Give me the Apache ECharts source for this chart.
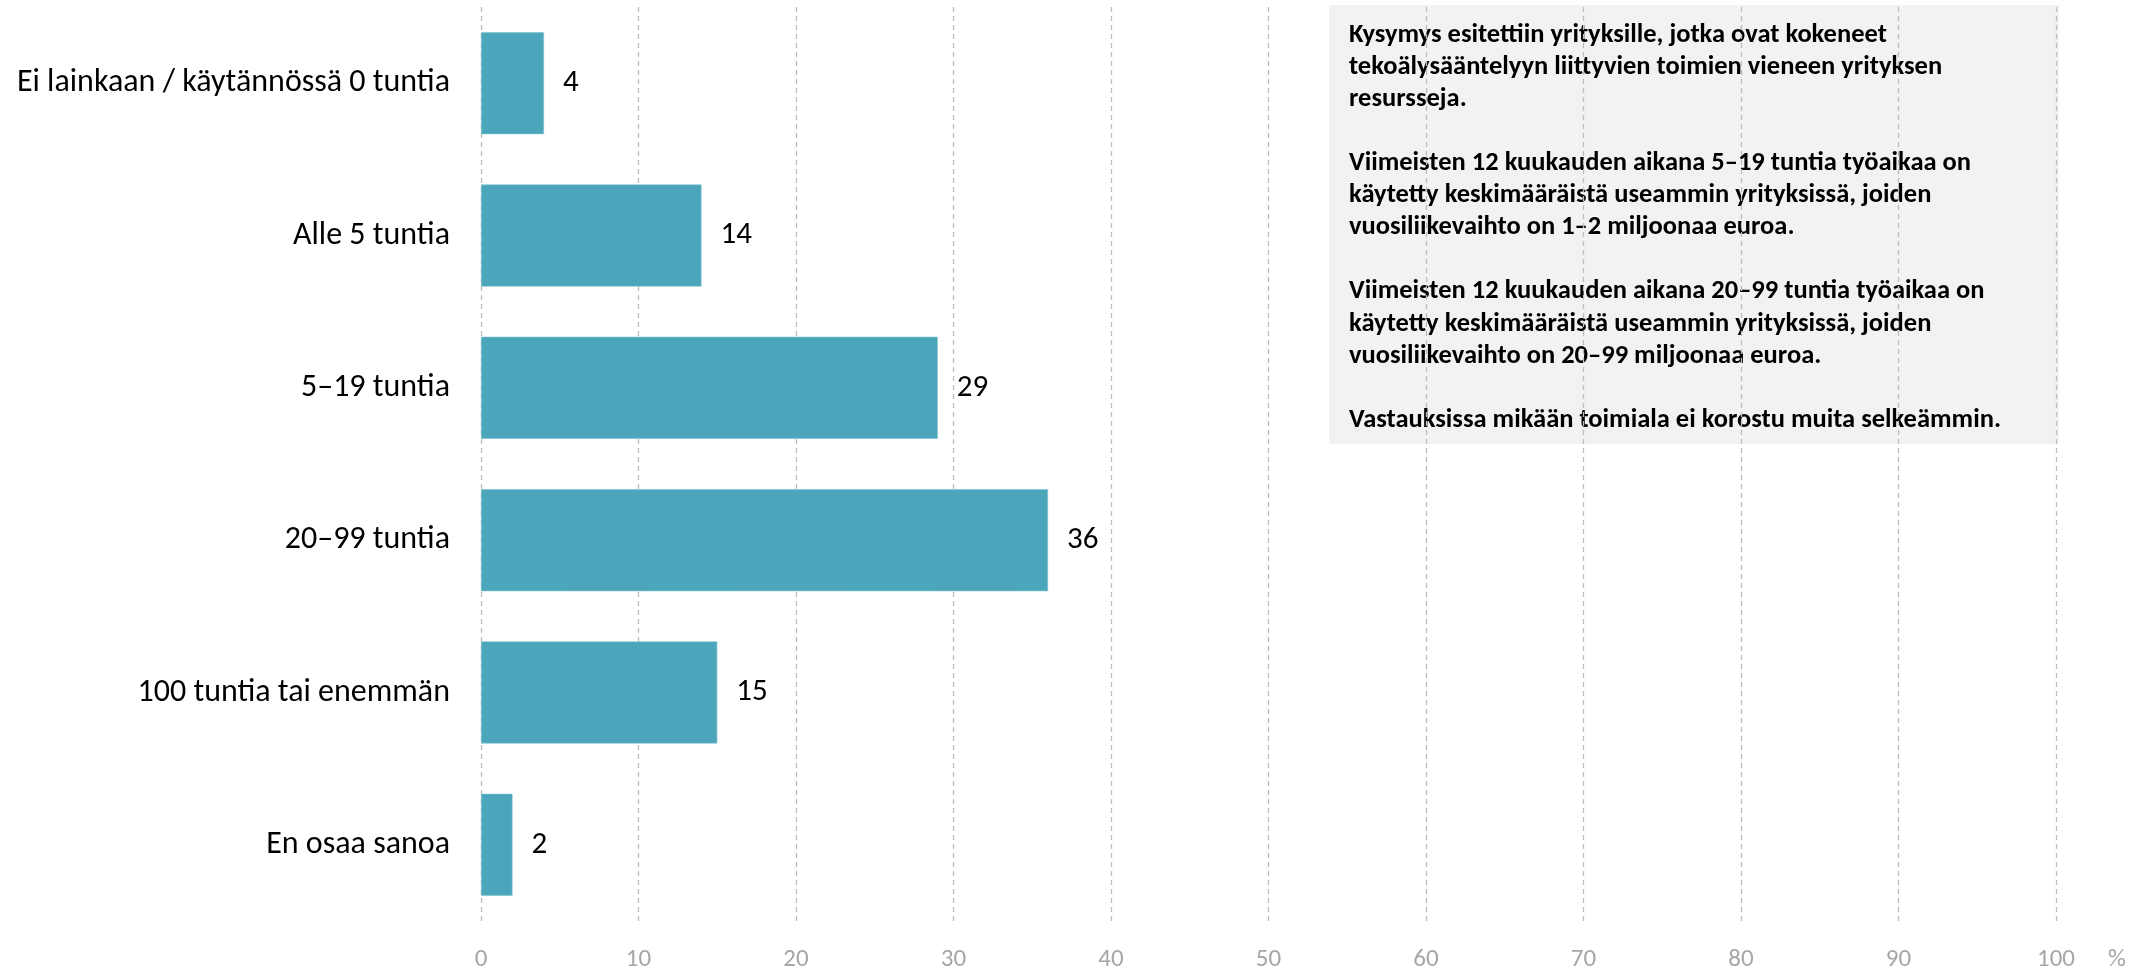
<!DOCTYPE html>
<html>
<head>
<meta charset="utf-8">
<script src="https://cdn.jsdelivr.net/npm/echarts@6/dist/echarts.min.js"></script>
<style>
  html, body { margin: 0; padding: 0; background: #ffffff; }
  #chart { width: 2152px; height: 972px; }
</style>
</head>
<body>
<div id="chart"></div>
<script>
// Time spent on AI-regulation measures over the last 12 months (% of companies)
const categories = [
  'Ei lainkaan / käytännössä 0 tuntia',
  'Alle 5 tuntia',
  '5–19 tuntia',
  '20–99 tuntia',
  '100 tuntia tai enemmän',
  'En osaa sanoa'
];
const shares = [4, 14, 29, 36, 15, 2];
const axisTicks = [0, 10, 20, 30, 40, 50, 60, 70, 80, 90, 100];
const unitLabel = '%';
const noteLines = [
  'Kysymys esitettiin yrityksille, jotka ovat kokeneet',
  'tekoälysääntelyyn liittyvien toimien vieneen yrityksen',
  'resursseja.',
  '',
  'Viimeisten 12 kuukauden aikana 5–19 tuntia työaikaa on',
  'käytetty keskimääräistä useammin yrityksissä, joiden',
  'vuosiliikevaihto on 1–2 miljoonaa euroa.',
  '',
  'Viimeisten 12 kuukauden aikana 20–99 tuntia työaikaa on',
  'käytetty keskimääräistä useammin yrityksissä, joiden',
  'vuosiliikevaihto on 20–99 miljoonaa euroa.',
  '',
  'Vastauksissa mikään toimiala ei korostu muita selkeämmin.'
];

const FONT = 'Carlito, Lato, "Open Sans", sans-serif';
const chart = echarts.init(document.getElementById('chart'), null, { renderer: 'canvas' });

chart.setOption({
  animation: false,
  backgroundColor: '#ffffff',
  grid: { left: 481, right: 96, top: 7, bottom: 46, containLabel: false },
  xAxis: {
    type: 'value',
    min: axisTicks[0],
    max: axisTicks[axisTicks.length - 1],
    interval: axisTicks[1] - axisTicks[0],
    axisLine: { show: false },
    axisTick: { show: false },
    axisLabel: {
      color: '#a6a6a6',
      fontFamily: FONT,
      fontSize: 25,
      margin: 26,
      verticalAlign: 'top'
    },
    splitLine: {
      show: true,
      lineStyle: { color: '#bcbcbc', width: 1.3, type: [5, 4] }
    },
    name: unitLabel,
    nameLocation: 'end',
    nameGap: 52,
    nameTextStyle: {
      color: '#a6a6a6',
      fontFamily: FONT,
      fontSize: 25,
      verticalAlign: 'top',
      padding: [26, 0, 0, 0]
    }
  },
  yAxis: {
    type: 'category',
    data: categories,
    inverse: true,
    axisLine: { show: false },
    axisTick: { show: false },
    splitLine: { show: false },
    axisLabel: {
      color: '#000000',
      fontFamily: FONT,
      fontSize: 32,
      margin: 31
    }
  },
  series: [{
    type: 'bar',
    data: shares,
    barCategoryGap: '33%',
    itemStyle: { color: '#4ba6bb', borderColor: '#7fc1d0', borderWidth: 0.6 },
    label: {
      show: true,
      position: 'right',
      distance: 19,
      color: '#000000',
      fontFamily: FONT,
      fontSize: 31
    }
  }],
  graphic: [{
    type: 'group',
    left: 1329,
    top: 5,
    z: 100,
    children: [{
      type: 'rect',
      shape: { x: 0, y: 0, width: 730, height: 439 },
      style: { fill: '#f2f2f2' }
    }, {
      type: 'text',
      x: 20,
      y: 14,
      style: {
        text: noteLines.join('\n'),
        fill: '#000000',
        font: 'bold 26.5px ' + FONT,
        lineHeight: 32.1,
        verticalAlign: 'top'
      }
    }]
  }]
});
</script>
</body>
</html>
